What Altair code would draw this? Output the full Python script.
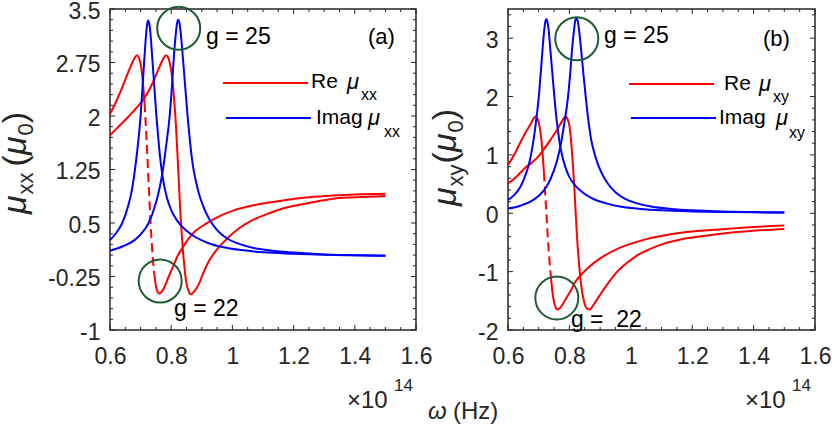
import altair as alt
import pandas as pd

FONT = "Liberation Sans, Arial, Helvetica, sans-serif"
INK = "#262626"
RED = "#ff0000"
BLUE = "#0000ff"
GREEN = "#1f5c34"

# ---------------- data ----------------
# panel (a): Re mu_xx, g = 22 (solid / dashed / solid)
a_re22_x1 = [0.60, 0.62, 0.64, 0.66, 0.67, 0.68, 0.688, 0.695, 0.70, 0.705, 0.71, 0.713]
a_re22_y1 = [2.03, 2.20, 2.40, 2.62, 2.72, 2.81, 2.85, 2.81, 2.73, 2.58, 2.34, 2.18]
a_re22_xd = [0.713, 0.72, 0.725, 0.73, 0.735, 0.74, 0.745]
a_re22_yd = [2.18, 1.62, 1.17, 0.72, 0.32, 0.0, -0.22]
a_re22_x2 = [0.745, 0.75, 0.755, 0.761, 0.77, 0.78, 0.79, 0.805, 0.82, 0.838, 0.86, 0.88,
             0.914, 0.95, 1.0, 1.05, 1.11, 1.17, 1.25, 1.33, 1.40, 1.50]
a_re22_y2 = [-0.22, -0.38, -0.46, -0.49, -0.46, -0.38, -0.27, -0.12, 0.03, 0.16, 0.30, 0.39,
             0.49, 0.58, 0.67, 0.73, 0.78, 0.82, 0.86, 0.885, 0.90, 0.91]
# panel (a): Re mu_xx, g = 25
a_re25_x = [0.60, 0.63, 0.66, 0.69, 0.72, 0.74, 0.755, 0.767, 0.775, 0.783, 0.79, 0.795, 0.80,
            0.805, 0.81, 0.815, 0.82, 0.824, 0.829, 0.834, 0.838, 0.843, 0.848, 0.855, 0.865,
            0.875, 0.89, 0.903, 0.92, 0.946, 0.98, 1.023, 1.061, 1.11, 1.17, 1.25, 1.33, 1.40, 1.50]
a_re25_y = [1.73, 1.86, 1.99, 2.13, 2.30, 2.47, 2.62, 2.74, 2.81, 2.85, 2.82, 2.75, 2.64,
            2.46, 2.21, 1.90, 1.50, 1.17, 0.72, 0.38, 0.13, -0.10, -0.30, -0.43, -0.50,
            -0.46, -0.36, -0.22, -0.06, 0.11, 0.27, 0.43, 0.53, 0.62, 0.71, 0.78, 0.84, 0.86, 0.88]
# imaginary parts (x samples shared by both panels)
im22_x = [0.60, 0.62, 0.64, 0.66, 0.67, 0.68, 0.69, 0.70, 0.707, 0.713, 0.718, 0.722, 0.725,
          0.728, 0.732, 0.737, 0.745, 0.752, 0.76, 0.767, 0.775, 0.785, 0.80, 0.82, 0.85, 0.88,
          0.92, 0.97, 1.03, 1.10, 1.20, 1.30, 1.40, 1.50]
a_im22_y = [0.26, 0.36, 0.50, 0.75, 0.93, 1.20, 1.55, 2.00, 2.45, 2.85, 3.15, 3.30, 3.34,
            3.30, 3.17, 2.88, 2.40, 1.98, 1.58, 1.30, 1.07, 0.87, 0.68, 0.53, 0.39, 0.30,
            0.22, 0.16, 0.12, 0.09, 0.07, 0.055, 0.047, 0.04]
b_im22_y = [0.23, 0.31, 0.45, 0.70, 0.88, 1.15, 1.52, 1.98, 2.43, 2.84, 3.14, 3.29, 3.33,
            3.29, 3.16, 2.86, 2.37, 1.94, 1.53, 1.25, 1.02, 0.82, 0.62, 0.47, 0.33, 0.24,
            0.17, 0.11, 0.075, 0.05, 0.032, 0.022, 0.016, 0.012]
im25_x = [0.60, 0.64, 0.68, 0.70, 0.725, 0.75, 0.76, 0.772, 0.783, 0.795, 0.803, 0.809, 0.815,
          0.819, 0.823, 0.827, 0.831, 0.837, 0.846, 0.854, 0.863, 0.871, 0.88, 0.89, 0.905,
          0.925, 0.95, 0.98, 1.02, 1.07, 1.13, 1.20, 1.30, 1.40, 1.50]
a_im25_y = [0.11, 0.17, 0.26, 0.34, 0.49, 0.78, 0.95, 1.22, 1.57, 2.00, 2.45, 2.85, 3.15,
            3.30, 3.35, 3.30, 3.17, 2.88, 2.40, 1.98, 1.58, 1.30, 1.10, 0.92, 0.73,
            0.55, 0.40, 0.29, 0.21, 0.15, 0.11, 0.085, 0.06, 0.048, 0.04]
b_im25_y = [0.08, 0.13, 0.22, 0.30, 0.45, 0.74, 0.91, 1.18, 1.53, 1.97, 2.42, 2.83, 3.14,
            3.30, 3.34, 3.30, 3.16, 2.86, 2.37, 1.95, 1.54, 1.26, 1.06, 0.88, 0.69,
            0.51, 0.36, 0.25, 0.17, 0.11, 0.075, 0.05, 0.03, 0.02, 0.012]
# panel (b): Re mu_xy, g = 22 (solid / dashed / solid)
b_re22_x1 = [0.60, 0.62, 0.641, 0.66, 0.674, 0.683, 0.69, 0.697, 0.704, 0.709, 0.713, 0.717]
b_re22_y1 = [0.83, 1.00, 1.22, 1.41, 1.53, 1.62, 1.66, 1.61, 1.45, 1.25, 1.00, 0.70]
b_re22_xd = [0.717, 0.72, 0.725, 0.73, 0.735, 0.74]
b_re22_yd = [0.70, 0.44, 0.0, -0.44, -0.80, -1.10]
b_re22_x2 = [0.74, 0.745, 0.75, 0.755, 0.761, 0.77, 0.78, 0.79, 0.804, 0.82, 0.848, 0.88,
             0.913, 0.96, 1.02, 1.06, 1.108, 1.17, 1.25, 1.33, 1.40, 1.50]
b_re22_y2 = [-1.10, -1.36, -1.52, -1.61, -1.65, -1.62, -1.54, -1.45, -1.33, -1.17, -1.00, -0.85,
             -0.73, -0.60, -0.49, -0.43, -0.38, -0.33, -0.29, -0.26, -0.235, -0.21]
# panel (b): Re mu_xy, g = 25
b_re25_x = [0.60, 0.63, 0.652, 0.68, 0.70, 0.717, 0.74, 0.761, 0.775, 0.787, 0.795, 0.80,
            0.804, 0.808, 0.812, 0.816, 0.82, 0.825, 0.831, 0.838, 0.848, 0.857, 0.867, 0.877,
            0.89, 0.902, 0.93, 0.956, 0.99, 1.021, 1.06, 1.108, 1.17, 1.25, 1.33, 1.40, 1.50]
b_re25_y = [0.51, 0.64, 0.76, 0.88, 0.98, 1.10, 1.27, 1.44, 1.57, 1.66, 1.60, 1.50,
            1.33, 1.08, 0.78, 0.45, 0.05, -0.42, -0.84, -1.22, -1.52, -1.63, -1.65, -1.58,
            -1.48, -1.38, -1.17, -1.00, -0.84, -0.72, -0.62, -0.52, -0.44, -0.38, -0.33, -0.30, -0.27]

# annotations (circle centres, label anchors, label texts)
a_circ_x = [0.8245, 0.764]
a_circ_y = [3.23, -0.313]
b_circ_x = [0.824, 0.759]
b_circ_y = [2.99, -1.45]
a_lab_x = [0.914, 0.809]
a_lab_y = [3.11, -0.71]
a_lab_t = ["g = 25", "g = 22"]
b_lab_x = [0.913, 0.805]
b_lab_y = [3.03, -1.83]
b_lab_t = ["g = 25", "g =\u00a0 22"]

# axes
x_major = [0.6, 0.8, 1.0, 1.2, 1.4, 1.6]
ya_major = [-1, -0.25, 0.5, 1.25, 2, 2.75, 3.5]
yb_major = [-2, -1, 0, 1, 2, 3]
x_minor = [round(0.6 + 0.05 * i, 3) for i in range(21)]
ya_minor = [round(-1 + 0.15 * i, 3) for i in range(31)]
yb_minor = [round(-2 + 0.2 * i, 3) for i in range(28)]

W_A, W_B, H = 306, 307, 321
ONE = pd.DataFrame({"k": [0]})


def cdf(xs, ys, name):
    return pd.DataFrame({"x": xs, "y": ys, "c": name})


def txt(s, x, y, size, italic=False, angle=None, align="left", baseline="middle", color="black"):
    kw = dict(text=s, font=FONT, fontSize=size, color=color, align=align, baseline=baseline)
    if italic:
        kw["fontStyle"] = "italic"
    if angle is not None:
        kw["angle"] = angle
    return alt.Chart(ONE).mark_text(**kw).encode(x=alt.value(x), y=alt.value(y))


def ytitle(base_x, start_y, sub, gap, M=34, S=22):
    """Rotated 'mu_sub (mu_0)' built from pieces, reading bottom to top."""
    mu = 0.576 * M
    sub_w = 1.0 * S
    par = 0.333 * M
    zero = 0.556 * S
    y1 = start_y
    y2 = y1 - mu
    y3 = y2 - sub_w - gap
    y4 = y3 - par
    y5 = y4 - mu
    y6 = y5 - zero
    sb = base_x + 7
    kw = dict(angle=270, baseline="alphabetic", color=INK)
    return [
        txt("\u03bc", base_x, y1, M, italic=True, **kw),
        txt(sub, sb, y2, S, **kw),
        txt("(", base_x, y3, M, **kw),
        txt("\u03bc", base_x, y4, M, italic=True, **kw),
        txt("0", sb, y5, S, **kw),
        txt(")", base_x, y6, M, **kw),
    ]


def panel(W, ydom, ymaj, ymin, solid_red, dashed_red, blue, circ, labs, extra):
    xs = alt.Scale(domain=[0.6, 1.6], nice=False, zero=False)
    ys = alt.Scale(domain=ydom, nice=False, zero=False)
    common = dict(domain=False, ticks=False, tickSize=0, grid=False, title=None,
                  labelFont=FONT, labelFontSize=23, labelColor=INK, labelFlush=False,
                  labelOverlap=False, labelBound=False, labelExpr="'' + datum.value")
    xax = alt.Axis(values=x_major, labelPadding=15, orient="bottom", **common)
    yax = alt.Axis(values=ymaj, labelPadding=10, labelOffset=2, orient="left", **common)

    def X(f):
        return alt.X(f"{f}:Q", scale=xs, axis=xax)

    def Y(f):
        return alt.Y(f"{f}:Q", scale=ys, axis=yax)

    layers = []
    # ticks on all four sides (inward)
    xt = pd.DataFrame({"v": x_minor, "L": [5 if any(abs(v - m) < 1e-6 for m in x_major) else 3 for v in x_minor]})
    yt = pd.DataFrame({"v": ymin, "L": [5 if any(abs(v - m) < 1e-6 for m in ymaj) else 3 for v in ymin]})
    for L in (5, 3):
        xs_d = xt[xt.L == L]
        ys_d = yt[yt.L == L]
        layers.append(alt.Chart(xs_d).mark_rule(color=INK, strokeWidth=1).encode(
            x=X("v"), y=alt.value(H), y2=alt.value(H - L)))
        layers.append(alt.Chart(xs_d).mark_rule(color=INK, strokeWidth=1).encode(
            x=X("v"), y=alt.value(0), y2=alt.value(L)))
        layers.append(alt.Chart(ys_d).mark_rule(color=INK, strokeWidth=1).encode(
            y=Y("v"), x=alt.value(0), x2=alt.value(L)))
        layers.append(alt.Chart(ys_d).mark_rule(color=INK, strokeWidth=1).encode(
            y=Y("v"), x=alt.value(W), x2=alt.value(W - L)))

    layers.append(alt.Chart(solid_red).mark_line(color=RED, strokeWidth=2, interpolate="monotone").encode(
        x=X("x"), y=Y("y"), detail="c:N"))
    layers.append(alt.Chart(dashed_red).mark_line(color=RED, strokeWidth=2, strokeDash=[9, 5],
                                                  interpolate="monotone").encode(
        x=X("x"), y=Y("y"), detail="c:N"))
    layers.append(alt.Chart(blue).mark_line(color=BLUE, strokeWidth=2, interpolate="monotone").encode(
        x=X("x"), y=Y("y"), detail="c:N"))
    layers.append(alt.Chart(circ).mark_point(shape="circle", size=1850, filled=False, color=GREEN,
                                             strokeWidth=2, opacity=1).encode(x=X("x"), y=Y("y")))
    layers.append(alt.Chart(labs).mark_text(align="left", baseline="middle", font=FONT, fontSize=23,
                                            color="black").encode(x=X("x"), y=Y("y"), text="t:N"))
    layers.extend(extra)
    return alt.layer(*layers).properties(width=W, height=H)


# ---- panel (a) ----
a_solid = pd.concat([cdf(a_re22_x1, a_re22_y1, "r22a"), cdf(a_re22_x2, a_re22_y2, "r22b"),
                     cdf(a_re25_x, a_re25_y, "r25")])
a_dash = cdf(a_re22_xd, a_re22_yd, "r22d")
a_blue = pd.concat([cdf(im22_x, a_im22_y, "i22"), cdf(im25_x, a_im25_y, "i25")])
a_circ = pd.DataFrame({"x": a_circ_x, "y": a_circ_y})
a_labs = pd.DataFrame({"x": a_lab_x, "y": a_lab_y, "t": a_lab_t})

a_extra = [
    # bounds anchor (invisible)
    alt.Chart(ONE).mark_rule(strokeOpacity=0).encode(x=alt.value(-150), x2=alt.value(-150),
                                                     y=alt.value(-50), y2=alt.value(-49)),
    # legend
    alt.Chart(ONE).mark_rule(color=RED, strokeWidth=2).encode(x=alt.value(113), x2=alt.value(198), y=alt.value(74)),
    alt.Chart(ONE).mark_rule(color=BLUE, strokeWidth=2).encode(x=alt.value(116), x2=alt.value(201), y=alt.value(109)),
    txt("Re", 201, 73, 21), txt("\u03bc", 237, 73, 22, italic=True), txt("xx", 251, 86, 16),
    txt("Imag", 206, 109, 21), txt("\u03bc", 258, 109, 22, italic=True), txt("xx", 274, 123, 16),
    txt("(a)", 258, 28, 22),
    txt("\u00d710", 237, 392, 24, color=INK), txt("14", 284, 377, 17, color=INK),
] + ytitle(-84, 205, "xx", 6)

# ---- panel (b) ----
b_solid = pd.concat([cdf(b_re22_x1, b_re22_y1, "r22a"), cdf(b_re22_x2, b_re22_y2, "r22b"),
                     cdf(b_re25_x, b_re25_y, "r25")])
b_dash = cdf(b_re22_xd, b_re22_yd, "r22d")
b_blue = pd.concat([cdf(im22_x, b_im22_y, "i22"), cdf(im25_x, b_im25_y, "i25")])
b_circ = pd.DataFrame({"x": b_circ_x, "y": b_circ_y})
b_labs = pd.DataFrame({"x": b_lab_x, "y": b_lab_y, "t": b_lab_t})

b_extra = [
    alt.Chart(ONE).mark_rule(color=RED, strokeWidth=2).encode(x=alt.value(121), x2=alt.value(206), y=alt.value(75)),
    alt.Chart(ONE).mark_rule(color=BLUE, strokeWidth=2).encode(x=alt.value(123), x2=alt.value(208), y=alt.value(109)),
    txt("Re", 216, 75, 21), txt("\u03bc", 251, 75, 22, italic=True), txt("xy", 265, 88, 16),
    txt("Imag", 211, 109, 21), txt("\u03bc", 268, 109, 22, italic=True), txt("xy", 281, 124, 16),
    txt("(b)", 255, 30, 22),
    txt("\u00d710", 237, 392, 24, color=INK), txt("14", 284, 377, 17, color=INK),
    txt("\u03c9", -80, 403, 24, italic=True, color=INK), txt("(Hz)", -55, 403, 24, color=INK),
] + ytitle(-52, 197, "xy", 1)

pa = panel(W_A, [-1, 3.5], ya_major, ya_minor, a_solid, a_dash, a_blue, a_circ, a_labs, a_extra)
pb = panel(W_B, [-2, 3.5], yb_major, yb_minor, b_solid, b_dash, b_blue, b_circ, b_labs, b_extra)

chart = alt.hconcat(pa, pb, spacing=92, bounds="flush").properties(
    padding={"left": -41, "top": -42, "right": 0, "bottom": 0}
).configure_view(stroke=INK, strokeWidth=1.5)

chart.save("out.html", embed_options={"renderer": "svg", "actions": False})
